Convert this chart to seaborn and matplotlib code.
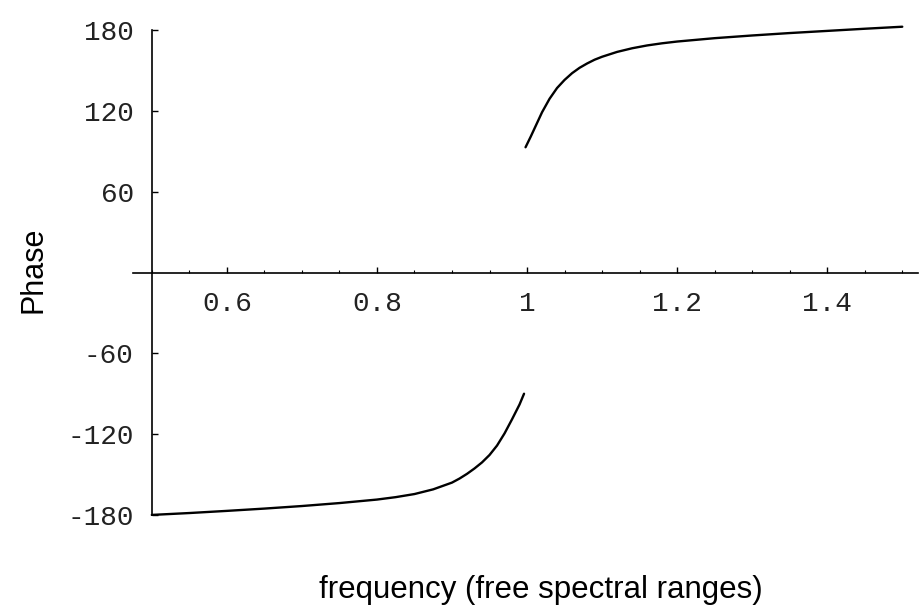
import matplotlib
matplotlib.use("Agg")
import matplotlib.pyplot as plt
import seaborn as sns
import pandas as pd
from matplotlib.ticker import FixedLocator, MultipleLocator

# --- data ---
lower_freq = [0.5, 0.55, 0.6, 0.65, 0.7, 0.75, 0.8, 0.825, 0.85, 0.875, 0.9,
              0.91, 0.92, 0.93, 0.94, 0.95, 0.96, 0.97, 0.98, 0.99, 0.996]
lower_phase = [-180, -178.6, -177, -175.3, -173.4, -171.2, -168.6, -166.8,
               -164.5, -161, -156, -153, -149.5, -145.5, -141, -135.5,
               -128.5, -119.5, -109, -98, -90]
upper_freq = [0.998, 1.005, 1.01, 1.015, 1.02, 1.025, 1.03, 1.04, 1.05, 1.06,
              1.07, 1.08, 1.09, 1.1, 1.12, 1.14, 1.16, 1.18, 1.2, 1.25, 1.3,
              1.35, 1.4, 1.45, 1.5]
upper_phase = [93, 101, 107, 113, 119, 124, 129, 137, 143, 148,
               152, 155.2, 158, 160.2, 163.8, 166.5, 168.6, 170.2, 171.5,
               174, 176, 177.8, 179.4, 181, 182.5]

xtick_values = [0.6, 0.8, 1.0, 1.2, 1.4]
xtick_labels = ["0.6", "0.8", "1", "1.2", "1.4"]
ytick_values = [-180, -120, -60, 60, 120, 180]
ytick_labels = ["-180", "-120", "-60", "60", "120", "180"]

x_label = "frequency (free spectral ranges)"
y_label = "Phase"

lower_df = pd.DataFrame({"freq": lower_freq, "phase": lower_phase})
upper_df = pd.DataFrame({"freq": upper_freq, "phase": upper_phase})

sns.set_style("white")
plt.rcParams["font.family"] = ["Liberation Sans", "DejaVu Sans"]

fig = plt.figure(figsize=(9.22, 6.13), dpi=100)
ax = fig.add_axes([0.1443, 0.1578, 0.8514, 0.8019])

sns.lineplot(data=lower_df, x="freq", y="phase", ax=ax, color="black",
             linewidth=1.7, sort=True)
sns.lineplot(data=upper_df, x="freq", y="phase", ax=ax, color="black",
             linewidth=1.7, sort=True)

ax.set_xlim(0.475, 1.521)
ax.set_ylim(-181, 184)

for s in ["top", "right"]:
    ax.spines[s].set_visible(False)
ax.spines["left"].set_position(("data", 0.5))
ax.spines["left"].set_bounds(-180, 180)
ax.spines["bottom"].set_position(("data", 0))
for s in ["left", "bottom"]:
    ax.spines[s].set_color("black")
    ax.spines[s].set_linewidth(1.2)

ax.xaxis.set_major_locator(FixedLocator(xtick_values))
ax.xaxis.set_minor_locator(MultipleLocator(0.05))
ax.set_xticklabels(xtick_labels)
ax.yaxis.set_major_locator(FixedLocator(ytick_values))
ax.set_yticklabels(ytick_labels)

ax.tick_params(axis="x", which="major", direction="in", length=4, width=1,
               pad=13, colors="black", labelsize=20, bottom=True)
ax.tick_params(axis="x", which="minor", direction="in", length=2.5, width=0.8,
               colors="black", bottom=True)
ax.tick_params(axis="y", which="major", direction="in", length=4, width=1,
               pad=13, colors="black", labelsize=20, left=True)
for lab in ax.get_xticklabels() + ax.get_yticklabels():
    lab.set_fontfamily(["Liberation Mono", "DejaVu Sans Mono"])
    lab.set_color("#222222")

ax.set_xlabel(x_label, fontsize=22.5, va="center", color="black")
ax.set_ylabel(y_label, fontsize=22, va="center", color="black")
ax.xaxis.set_label_coords(0.52, -0.150)
ax.yaxis.set_label_coords(-0.1274, 0.501)

ax.grid(False)
fig.savefig("out.png", dpi=100, facecolor="white")
